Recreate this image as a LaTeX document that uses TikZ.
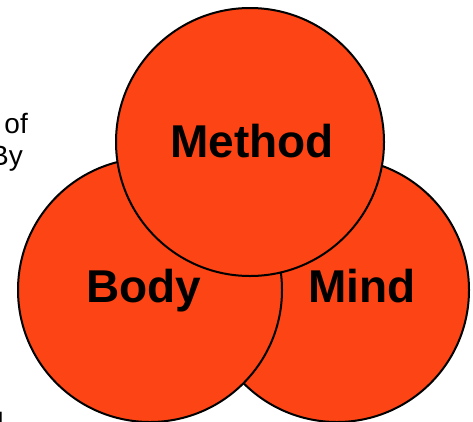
\documentclass[tikz,border=0pt]{standalone}
\usepackage{fontspec}
\setmainfont{Liberation Sans}
\definecolor{vennfill}{RGB}{252,68,20}
\begin{document}
\begin{tikzpicture}[x=1pt,y=-1pt,
  venn/.style={circle, draw=black, line width=2pt, fill=vennfill, inner sep=0pt},
  biglabel/.style={font=\fontsize{46}{50}\selectfont\bfseries, anchor=base, inner sep=0pt},
  sidetext/.style={font=\fontsize{28}{32}\selectfont, anchor=base east, inner sep=0pt}]
\useasboundingbox (0,0) rectangle (473,421);
\clip (0,0) rectangle (473,421);
\node[sidetext] (of) at (28,133) {of};
\node[sidetext] (by) at (23,165) {By};
\node[sidetext, font=\fontsize{28}{32}\selectfont\bfseries] (dd) at (4,432) {d};
\node[venn, minimum size=264pt] (mind) at (337,290) {};
\node[venn, minimum size=264pt] (body) at (150,290) {};
\node[venn, minimum size=268pt] (method) at (250,142) {};
\node[biglabel] (tmethod) at (252,157) {Method};
\node[biglabel] (tbody) at (144,302) {Body};
\node[biglabel] (tmind) at (362,302) {Mind};
\end{tikzpicture}
\end{document}
